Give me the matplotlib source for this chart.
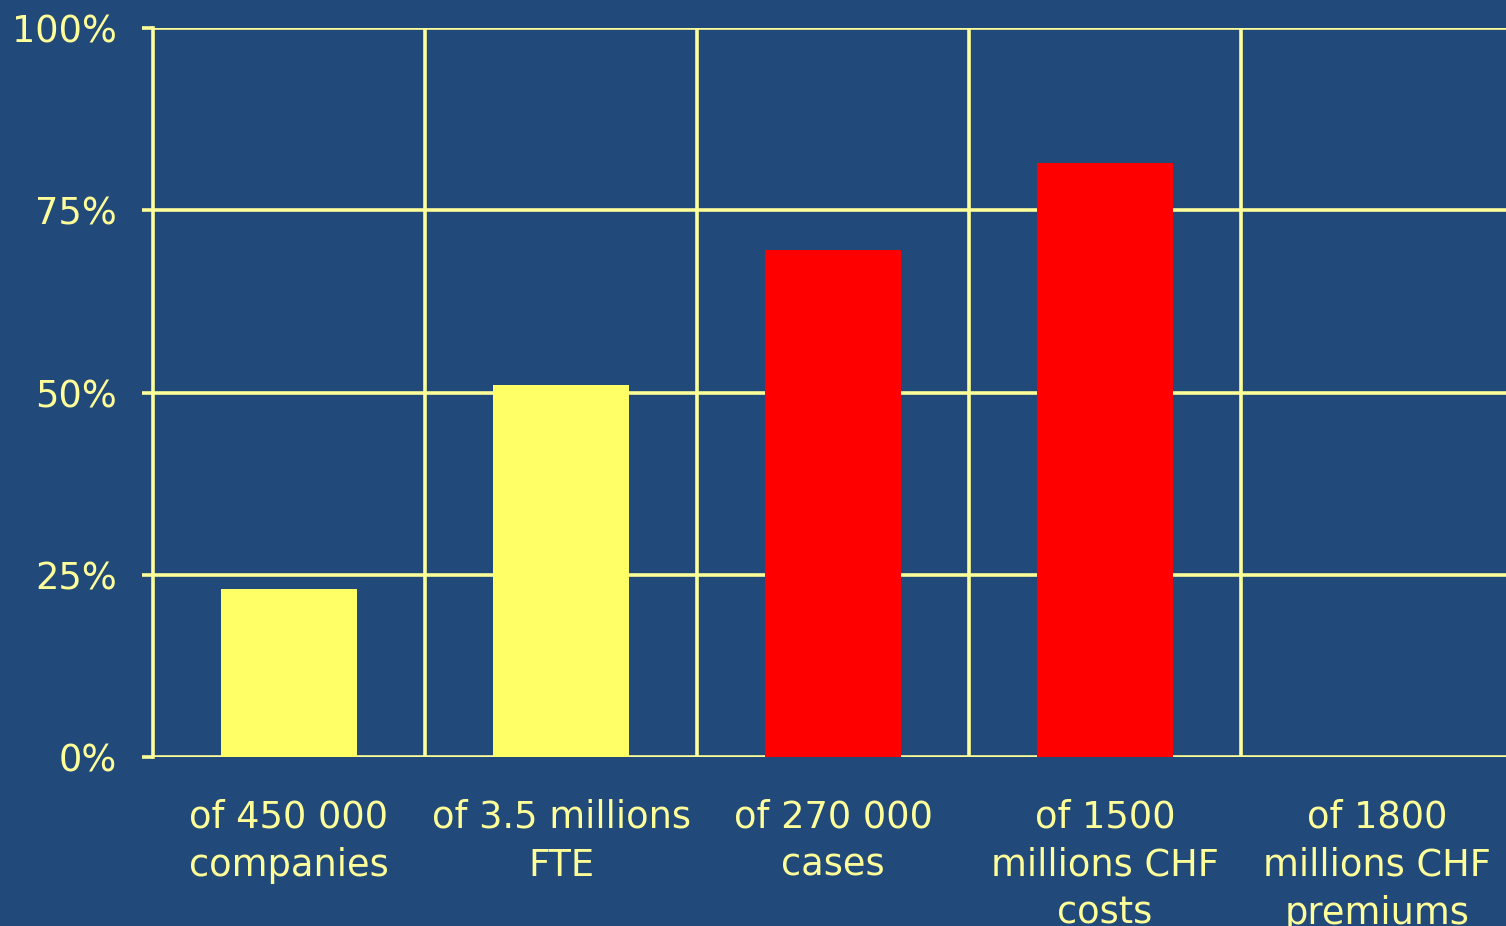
import matplotlib
matplotlib.use("Agg")
import matplotlib.pyplot as plt
from matplotlib.ticker import FixedLocator, FuncFormatter

categories = ["of 450 000\ncompanies", "of 3.5 millions\nFTE", "of 270 000\ncases",
              "of 1500\nmillions CHF\ncosts", "of 1800\nmillions CHF\npremiums"]
values = [23, 51, 69.5, 81.5, 0]
bar_colors = ["#FFFF66", "#FFFF66", "#FF0000", "#FF0000", "#FF0000"]
yticks = [0, 25, 50, 75, 100]

bg = "#214A7B"
fg = "#FFFF99"

plt.rcParams['font.family'] = ['DejaVu Sans']
fig = plt.figure(figsize=(15.06, 9.26), dpi=100, facecolor=bg)
ax = fig.add_axes([153/1506, 1-757/926, (1513-153)/1506, (757-28)/926])
ax.set_facecolor(bg)

x = list(range(len(categories)))
ax.bar(x, values, width=0.5, color=bar_colors, zorder=3)

ax.set_xlim(-0.5, len(categories)-0.5)
ax.set_ylim(0, 100)
ax.set_yticks(yticks)
ax.yaxis.set_major_formatter(FuncFormatter(lambda v, p: f"{int(v)}%"))
ax.set_xticks(x)
ax.set_xticklabels(categories, linespacing=1.38)
ax.xaxis.set_minor_locator(FixedLocator([i + 0.5 for i in x[:-1]]))

lw = 2.6
ax.grid(axis='y', which='major', color=fg, linewidth=lw, zorder=1)
ax.grid(axis='x', which='minor', color=fg, linewidth=lw, zorder=1)
ax.tick_params(axis='y', which='major', colors=fg, labelcolor=fg, length=8, width=lw,
               labelsize=26.5, pad=18)
ax.tick_params(axis='x', which='major', length=0, labelcolor=fg, labelsize=26.5, pad=30)
ax.tick_params(axis='x', which='minor', length=0)

for s in ['top', 'right', 'bottom']:
    ax.spines[s].set_visible(False)
ax.spines['left'].set_color(fg)
ax.spines['left'].set_linewidth(lw)
ax.set_axisbelow(True)

fig.savefig("out.png", dpi=100, facecolor=bg)
